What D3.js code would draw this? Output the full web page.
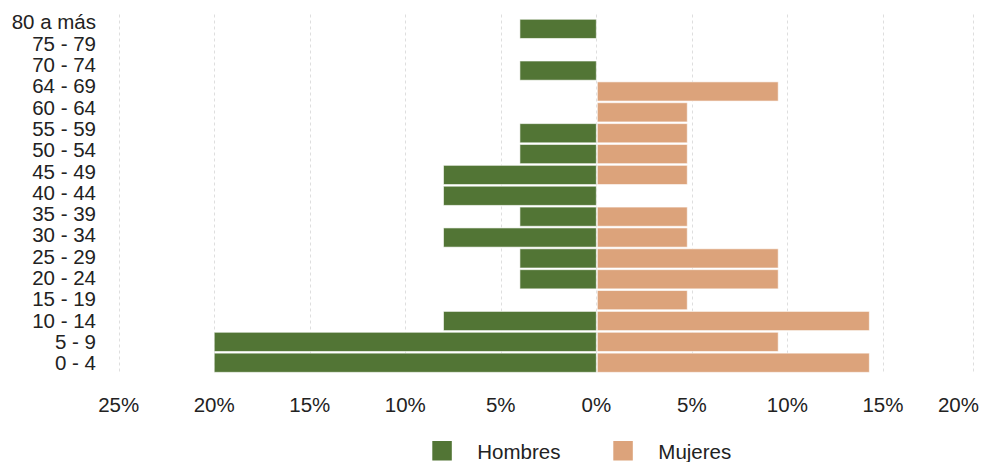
<!DOCTYPE html>
<html lang="es">
<head>
<meta charset="utf-8">
<title>Pirámide de población</title>
<script src="https://d3js.org/d3.v7.min.js"></script>
<style>
body { margin: 0; background: #fff; }
text { font-family: "Liberation Sans", Arial, sans-serif; fill: #222; }
</style>
</head>
<body>
<script>
// age groups, top to bottom
var ages = ["80 a más", "75 - 79", "70 - 74", "64 - 69", "60 - 64", "55 - 59", "50 - 54",
            "45 - 49", "40 - 44", "35 - 39", "30 - 34", "25 - 29", "20 - 24", "15 - 19",
            "10 - 14", "5 - 9", "0 - 4"];

// percentages (same order as ages)
var hombres = [4, 0, 4, 0, 0, 4, 4, 8, 8, 4, 8, 4, 4, 0, 8, 20, 20];
var mujeres = [0, 0, 0, 9.52, 4.76, 4.76, 4.76, 4.76, 0, 4.76, 4.76, 9.52, 9.52, 4.76, 14.29, 9.52, 14.29];

var tickValues = [-25, -20, -15, -10, -5, 0, 5, 10, 15, 19.7];
var tickLabels = ["25%", "20%", "15%", "10%", "5%", "0%", "5%", "10%", "15%", "20%"];

var series = ["Hombres", "Mujeres"];
var colors = ["#527535", "#dca37b"];

const w = 983;
const h = 462;

var svg = d3.select("body").append("svg")
    .attr("width", w)
    .attr("height", h);

var x = d3.scaleLinear()
    .domain([-25, 19.7])
    .range([118.7, 972.7]);

// bars
var y = d3.scaleBand()
    .domain(ages)
    .range([17.6, 374])
    .padding(0.08);

// label baselines drift slightly from the bars in the original
var yLabel = d3.scalePoint()
    .domain(ages)
    .range([29.4, 370.2]);

// vertical dashed grid
svg.append("g")
    .selectAll("line")
    .data(tickValues)
    .enter()
    .append("line")
    .attr("x1", function(d) { return Math.round(x(d)) + 0.5; })
    .attr("x2", function(d) { return Math.round(x(d)) + 0.5; })
    .attr("y1", 14.5)
    .attr("y2", 373.5)
    .attr("stroke", "#dedede")
    .attr("stroke-width", 1)
    .attr("stroke-dasharray", "3,3");

// men (left)
svg.append("g")
    .selectAll("rect")
    .data(ages.map(function(a, i) { return { age: a, v: hombres[i] }; }).filter(function(d) { return d.v > 0; }))
    .enter()
    .append("rect")
    .attr("x", function(d) { return x(-d.v); })
    .attr("y", function(d) { return y(d.age); })
    .attr("width", function(d) { return x(0) - x(-d.v); })
    .attr("height", y.bandwidth())
    .attr("fill", colors[0])
    .attr("stroke", "rgba(255,255,255,0.6)")
    .attr("stroke-width", 1);

// women (right)
svg.append("g")
    .selectAll("rect")
    .data(ages.map(function(a, i) { return { age: a, v: mujeres[i] }; }).filter(function(d) { return d.v > 0; }))
    .enter()
    .append("rect")
    .attr("x", x(0) + 1)
    .attr("y", function(d) { return y(d.age); })
    .attr("width", function(d) { return x(d.v) - x(0) - 1; })
    .attr("height", y.bandwidth())
    .attr("fill", colors[1])
    .attr("stroke", "rgba(255,255,255,0.6)")
    .attr("stroke-width", 1);

// y labels
svg.append("g")
    .selectAll("text")
    .data(ages)
    .enter()
    .append("text")
    .attr("x", 96)
    .attr("y", function(d) { return yLabel(d); })
    .attr("text-anchor", "end")
    .style("font-size", "20.5px")
    .text(function(d) { return d; });

// x tick labels
var xt = svg.append("g")
    .selectAll("text")
    .data(tickValues)
    .enter()
    .append("text")
    .attr("x", function(d) { return x(d); })
    .attr("y", 411.7)
    .attr("text-anchor", "middle")
    .style("font-size", "20.5px")
    .text(function(d, i) { return tickLabels[i]; });

// keep the last label inside the canvas
xt.each(function() {
    var b = this.getBBox();
    if (b.x + b.width > w - 4) {
        d3.select(this).attr("x", +d3.select(this).attr("x") - (b.x + b.width - (w - 4)));
    }
});

// legend
var legendX = [432.3, 613.3];
var lg = svg.append("g")
    .selectAll("g")
    .data(series)
    .enter()
    .append("g")
    .attr("transform", function(d, i) { return "translate(" + legendX[i] + ",0)"; });

lg.append("rect")
    .attr("x", 0)
    .attr("y", 441)
    .attr("width", 19.5)
    .attr("height", 19.5)
    .attr("fill", function(d, i) { return colors[i]; });

lg.append("text")
    .attr("x", 45)
    .attr("y", 458.6)
    .style("font-size", "20.5px")
    .text(function(d) { return d; });
</script>
</body>
</html>
